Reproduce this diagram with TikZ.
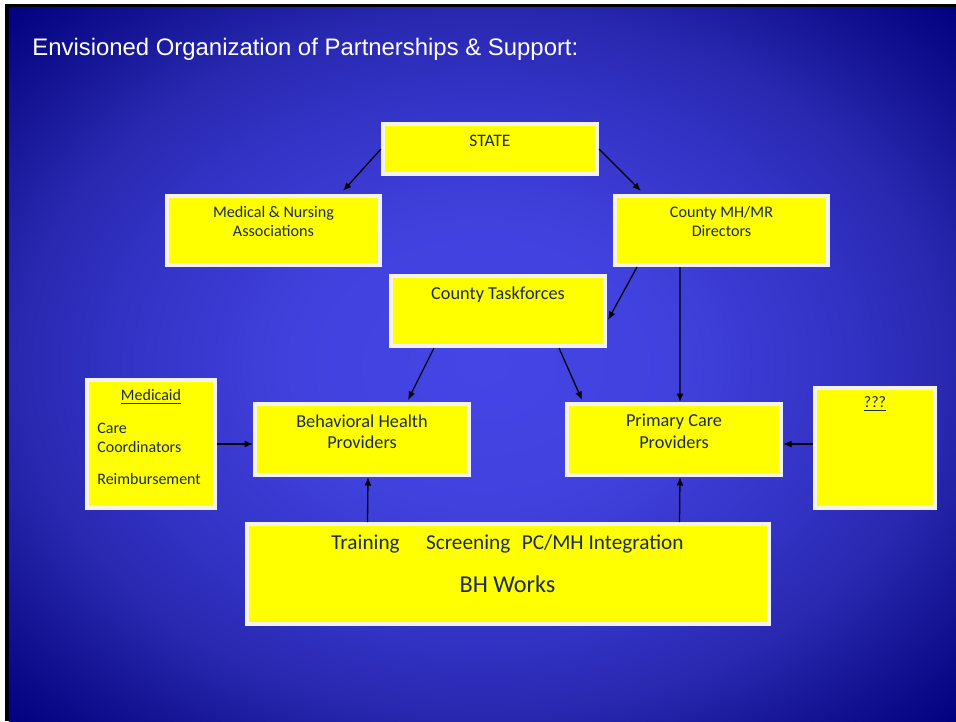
\documentclass[tikz,border=0pt]{standalone}
\usepackage{fontspec}
\setmainfont{Carlito}
\newfontfamily\headfont{Liberation Sans}
\usetikzlibrary{calc,arrows.meta,shadows}

\definecolor{slideyellow}{HTML}{FFFF00}
\definecolor{slideedge}{HTML}{F2F2F2}
\definecolor{slidetext}{HTML}{1C2B58}

% the path box is stretched over the central 50bp square of the shading
\pgfdeclareradialshading{slideglow}{\pgfpoint{0bp}{0bp}}{rgb(0bp)=(0.271,0.271,0.902); rgb(10bp)=(0.255,0.255,0.871); rgb(15bp)=(0.224,0.224,0.816); rgb(20bp)=(0.192,0.192,0.761); rgb(25bp)=(0.153,0.153,0.682); rgb(30bp)=(0.078,0.078,0.58); rgb(36bp)=(0,0,0.494); rgb(50bp)=(0,0,0.494)}

\def \slidew {19.12}
\def \slideh {14.42}

\tikzstyle{card}=[rectangle, draw=slideedge, line width=0.08cm, fill=slideyellow, inner sep=0pt, drop shadow={shadow xshift=0.02cm, shadow yshift=-0.03cm, opacity=0.4}]
\tikzstyle{txt}=[inner sep=0pt, anchor=north, align=center, text=slidetext]
\tikzstyle{link}=[->, >={Latex[length=1.7mm, width=1.4mm]}, line width=0.026cm, black]

\begin{document}
\begin{tikzpicture}

% slide frame and background
\useasboundingbox (0,0) rectangle (\slidew,-\slideh);
\fill[white] (0,0) rectangle (\slidew,-\slideh);
\fill[black] (0.10,-0.08) rectangle (\slidew,-\slideh);
\shade[shading=slideglow] (0.18,-0.15) rectangle (\slidew,-\slideh);

\node[anchor=base west, inner sep=0pt, text=white, font=\headfont\fontsize{13.6}{16}\selectfont] (title) at (0.64,-1.10) {Envisioned Organization of Partnerships \& Support:};

% top row
\node[card, minimum width=4.28cm, minimum height=1.00cm, label={[txt, yshift=-0.26cm, font=\fontsize{10}{12}\selectfont]north:STATE}] (state) at (9.80,-2.98) {};
\node[card, minimum width=4.26cm, minimum height=1.38cm, label={[txt, yshift=-0.24cm, font=\fontsize{9.2}{10.8}\selectfont]north:Medical \& Nursing\\Associations}] (med) at (5.47,-4.61) {};
\node[card, minimum width=4.26cm, minimum height=1.38cm, label={[txt, yshift=-0.24cm, font=\fontsize{9.2}{10.8}\selectfont]north:County MH/MR\\Directors}] (cmh) at (14.43,-4.61) {};
\node[card, minimum width=4.28cm, minimum height=1.40cm, label={[txt, yshift=-0.24cm, font=\fontsize{10.4}{12}\selectfont]north:County Taskforces}] (task) at (9.96,-6.22) {};

% providers and side boxes
\node[card, minimum width=2.56cm, minimum height=2.56cm,
    label={[txt, yshift=-0.22cm, font=\fontsize{9.1}{10.8}\selectfont]north:\underline{Medicaid}},
    label={[txt, anchor=north west, align=left, xshift=0.24cm, yshift=-0.90cm, font=\fontsize{9.1}{10.8}\selectfont]north west:Care\\Coordinators\\[7pt]Reimbursement}] (medicaid) at (3.02,-8.88) {};
\node[card, minimum width=4.28cm, minimum height=1.42cm, label={[txt, yshift=-0.24cm, font=\fontsize{10.4}{12.4}\selectfont]north:Behavioral Health\\Providers}] (bh) at (7.24,-8.79) {};
\node[card, minimum width=4.28cm, minimum height=1.42cm, label={[txt, yshift=-0.24cm, font=\fontsize{10.4}{12.4}\selectfont]north:Primary Care\\Providers}] (prim) at (13.48,-8.79) {};
\node[card, minimum width=2.40cm, minimum height=2.40cm, label={[txt, yshift=-0.21cm, font=\fontsize{9.1}{10.8}\selectfont]north:\underline{???}}] (other) at (17.50,-8.96) {};

% bottom box
\node[card, minimum width=10.44cm, minimum height=2.00cm,
    label={[txt, yshift=-0.24cm, font=\fontsize{12.1}{14}\selectfont]north:Training\hspace{15pt}Screening\hspace{6.5pt}PC/MH Integration},
    label={[txt, yshift=-1.07cm, font=\fontsize{13.8}{16}\selectfont]north:BH Works}] (bhworks) at (10.15,-11.48) {};

% arrows
\draw[link] (state.west) -- ($(med.north east)+(-0.78,0.06)$);
\draw[link] (state.east) -- ($(cmh.north west)+(0.56,0.06)$);
\draw[link] ($(cmh.south west)+(0.48,0)$) -- ($(task.east)+(0.02,-0.18)$);
\draw[link] ($(cmh.south west)+(1.34,0)$) -- ($(prim.north west)+(2.30,0)$);
\draw[link] ($(task.south west)+(0.90,0)$) -- ($(bh.north west)+(3.10,0.04)$);
\draw[link] ($(task.south west)+(3.40,0)$) -- ($(prim.north west)+(0.34,0.04)$);
\draw[link] (medicaid.east) -- (medicaid.east -| bh.west);
\draw[link] (other.west |- medicaid.east) -- (prim.east |- medicaid.east);
\draw[link] ($(bhworks.north west)+(2.46,0)$) -- ($(bh.south west)+(2.30,0)$);
\draw[link] ($(bhworks.north west)+(8.70,0)$) -- ($(prim.south west)+(2.30,0)$);

\end{tikzpicture}
\end{document}
